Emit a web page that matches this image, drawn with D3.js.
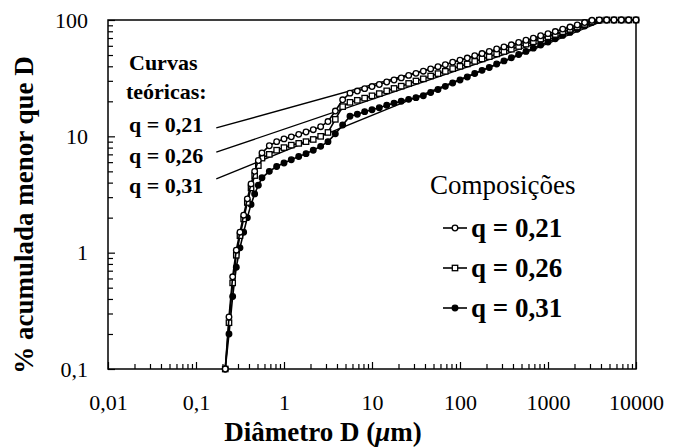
<!DOCTYPE html>
<html lang="pt">
<head>
<meta charset="utf-8">
<title>Distribuição granulométrica</title>
<style>
body { margin: 0; background: #fff; }
svg, svg text { font-family: "Liberation Serif", "Times New Roman", serif; }
.frame { fill: none; stroke: #000; stroke-width: 1.5; }
.axis { font-family: "Liberation Serif", "Times New Roman", serif; }
.axis path { display: none; }
.axis line { stroke: #000; stroke-width: 1.2; }
.axis text { font-size: 22px; fill: #000; }
.curve { fill: none; stroke: #000; stroke-width: 1.6; }
.theory { fill: none; stroke: #000; stroke-width: 1.3; }
.lbl { font-weight: bold; font-size: 22px; }
.title { font-weight: bold; font-size: 27px; }
</style>
</head>
<body>
<svg width="674" height="447"></svg>
<script src="https://cdn.jsdelivr.net/npm/d3@7"></script>
<script>
// diameters (um), shared by the three compositions
const diameters = [0.215, 0.237, 0.261, 0.287, 0.316, 0.348, 0.383, 0.422, 0.464, 0.511, 0.562,
  0.681, 0.825, 1, 1.21, 1.47, 1.78, 2.15, 2.61, 3.16, 3.83, 4.64,
  5.62, 6.81, 8.25, 10, 12.1, 14.7, 17.8, 21.5, 26.1, 31.6, 38.3, 46.4, 56.2, 68.1, 82.5, 100,
  121, 147, 178, 215, 261, 316, 383, 464, 562, 681, 825, 1000, 1210, 1470, 1780, 2150, 2610, 3160,
  3830, 4640, 5620, 6810, 8250, 10000];

// % acumulada menor que D
const q021 = [0.1, 0.28, 0.62, 1.05, 1.5, 2.1, 2.9, 3.9, 5.0, 6.2, 7.2,
  8.3, 9.0, 9.5, 9.9, 10.4, 10.9, 11.4, 12.1, 13.4, 16.5, 20.6,
  23.5, 24.5, 25.7, 26.8, 27.9, 29.3, 30.5, 31.8, 33.4, 34.8, 36.3, 38.0, 39.7, 41.3, 43.4, 45.2,
  47.1, 49.4, 51.5, 53.7, 56.3, 58.7, 61.2, 64.2, 67.0, 69.8, 73.2, 76.3, 79.6, 83.5, 87.0, 90.7, 95.1, 99.4,
  100, 100, 100, 100, 100, 100];
const q026 = [0.1, 0.25, 0.55, 0.95, 1.4, 1.95, 2.7, 3.6, 4.6, 5.6, 6.5,
  7.0, 7.6, 8.0, 8.4, 8.7, 9.0, 9.4, 10.0, 10.8, 14.0, 18.0,
  19.6, 20.4, 21.3, 22.3, 23.3, 24.6, 25.8, 27.0, 28.5, 29.9, 31.2, 33.0, 34.6, 36.2, 38.2, 40.0,
  41.9, 44.1, 46.3, 48.4, 51.1, 53.6, 56.1, 59.2, 62.0, 65.0, 68.6, 71.8, 75.1, 79.3, 83.1, 87.0, 91.8, 97.1,
  99.6, 100, 100, 100, 100, 100];
const q031 = [0.1, 0.2, 0.42, 0.75, 1.1, 1.5, 2.0, 2.6, 3.2, 3.8, 4.4,
  5.0, 5.5, 5.9, 6.3, 6.7, 7.1, 7.6, 8.2, 9.0, 10.5, 12.5,
  14.9, 15.5, 16.3, 16.9, 17.6, 18.5, 19.3, 20.0, 20.8, 21.5, 22.3, 23.8, 25.3, 26.9, 28.7, 30.5,
  32.4, 34.7, 36.9, 39.1, 41.9, 44.5, 47.4, 50.5, 53.7, 57.3, 61.0, 64.7, 68.9, 73.7, 78.2, 83.1, 88.8, 95.1,
  99.0, 100, 100, 100, 100, 100];

const seriesNames = ["q = 0,21", "q = 0,26", "q = 0,31"];
const seriesMarkers = ["circle", "square", "dot"];

// theoretical curves: end points [D, %]
const theoryLines = [
  [[0.17, 11.8], [4500, 100]],
  [[0.17, 7.3], [4500, 100]],
  [[0.17, 4.3], [4500, 100]]
];

const xTickValues = [0.01, 0.1, 1, 10, 100, 1000, 10000];
const xTickLabels = ["0,01", "0,1", "1", "10", "100", "1000", "10000"];
const yTickValues = [0.1, 1, 10, 100];
const yTickLabels = ["0,1", "1", "10", "100"];

const svg = d3.select("svg");

const x = d3.scaleLog().domain([0.01, 10000]).range([108, 636]);
const y = d3.scaleLog().domain([0.1, 100]).range([369, 20]);

const isDecade = v => Math.abs(Math.log10(v) - Math.round(Math.log10(v))) < 1e-6;

// minor ticks, pointing inward
svg.append("g").attr("class", "axis")
    .attr("transform", "translate(0,369)")
    .call(d3.axisBottom(x).tickValues(x.ticks().filter(v => !isDecade(v)))
      .tickSize(-5).tickFormat(""));
svg.append("g").attr("class", "axis")
    .attr("transform", "translate(108,0)")
    .call(d3.axisLeft(y).tickValues(y.ticks().filter(v => !isDecade(v)))
      .tickSize(-5).tickFormat(""));

// decades with labels
svg.append("g").attr("class", "axis")
    .attr("transform", "translate(0,369)")
    .call(d3.axisBottom(x).tickValues(xTickValues).tickSize(-7).tickPadding(25)
      .tickFormat((d, i) => xTickLabels[i]))
    .attr("font-family", null);
svg.append("g").attr("class", "axis")
    .attr("transform", "translate(108,0)")
    .call(d3.axisLeft(y).tickValues(yTickValues).tickSize(-7).tickPadding(20)
      .tickFormat((d, i) => yTickLabels[i]))
    .attr("font-family", null);

svg.append("rect").attr("class", "frame")
    .attr("x", 108).attr("y", 20).attr("width", 528).attr("height", 349);

const line = d3.line().x(d => x(d[0])).y(d => y(d[1]));

svg.selectAll(".theory")
    .data(theoryLines)
  .enter().append("path")
    .attr("class", "theory")
    .attr("d", line);

function marker(g, type, cx, cy) {
  if (type === "square") {
    g.append("rect").attr("x", cx - 2.7).attr("y", cy - 2.7)
      .attr("width", 5.4).attr("height", 5.4)
      .attr("fill", "#fff").attr("stroke", "#000").attr("stroke-width", 1.3);
  } else {
    g.append("circle").attr("cx", cx).attr("cy", cy).attr("r", 2.8)
      .attr("fill", type === "dot" ? "#000" : "#fff")
      .attr("stroke", "#000").attr("stroke-width", 1.3);
  }
}

const series = [q031, q026, q021];
const seriesType = ["dot", "square", "circle"];

series.forEach(function(vals, s) {
  const pts = diameters.map((d, i) => [d, vals[i]]);
  svg.append("path").attr("class", "curve").attr("d", line(pts));
  const g = svg.append("g");
  pts.forEach(p => marker(g, seriesType[s], x(p[0]), y(p[1])));
});

// theoretical curve labels
const tl = svg.append("g").attr("class", "lbl");
tl.append("text").attr("x", 129).attr("y", 70).text("Curvas");
tl.append("text").attr("x", 126).attr("y", 99).text("teóricas:");
seriesNames.forEach(function(n, i) {
  tl.append("text").attr("x", 129).attr("y", 132 + i * 30.5).text(n);
});

// legend
svg.append("text").attr("x", 430).attr("y", 194)
    .style("font-size", "27px").text("Composições");
seriesNames.forEach(function(n, i) {
  const cy = 228 + i * 40;
  svg.append("line").attr("x1", 443).attr("x2", 467).attr("y1", cy).attr("y2", cy)
    .attr("stroke", "#000").attr("stroke-width", 1.6);
  marker(svg, seriesMarkers[i], 455, cy);
  svg.append("text").attr("x", 471).attr("y", cy + 9)
    .style("font-size", "27px").style("font-weight", "bold").text(n);
});

// axis titles
const xt = svg.append("text").attr("class", "title")
    .attr("x", 323).attr("y", 441).attr("text-anchor", "middle");
xt.append("tspan").text("Diâmetro D (");
xt.append("tspan").style("font-style", "italic").text("μ");
xt.append("tspan").text("m)");

svg.append("text").attr("class", "title")
    .attr("transform", "translate(33,215) rotate(-90)")
    .attr("text-anchor", "middle")
    .text("% acumulada menor que D");
</script>
</body>
</html>
